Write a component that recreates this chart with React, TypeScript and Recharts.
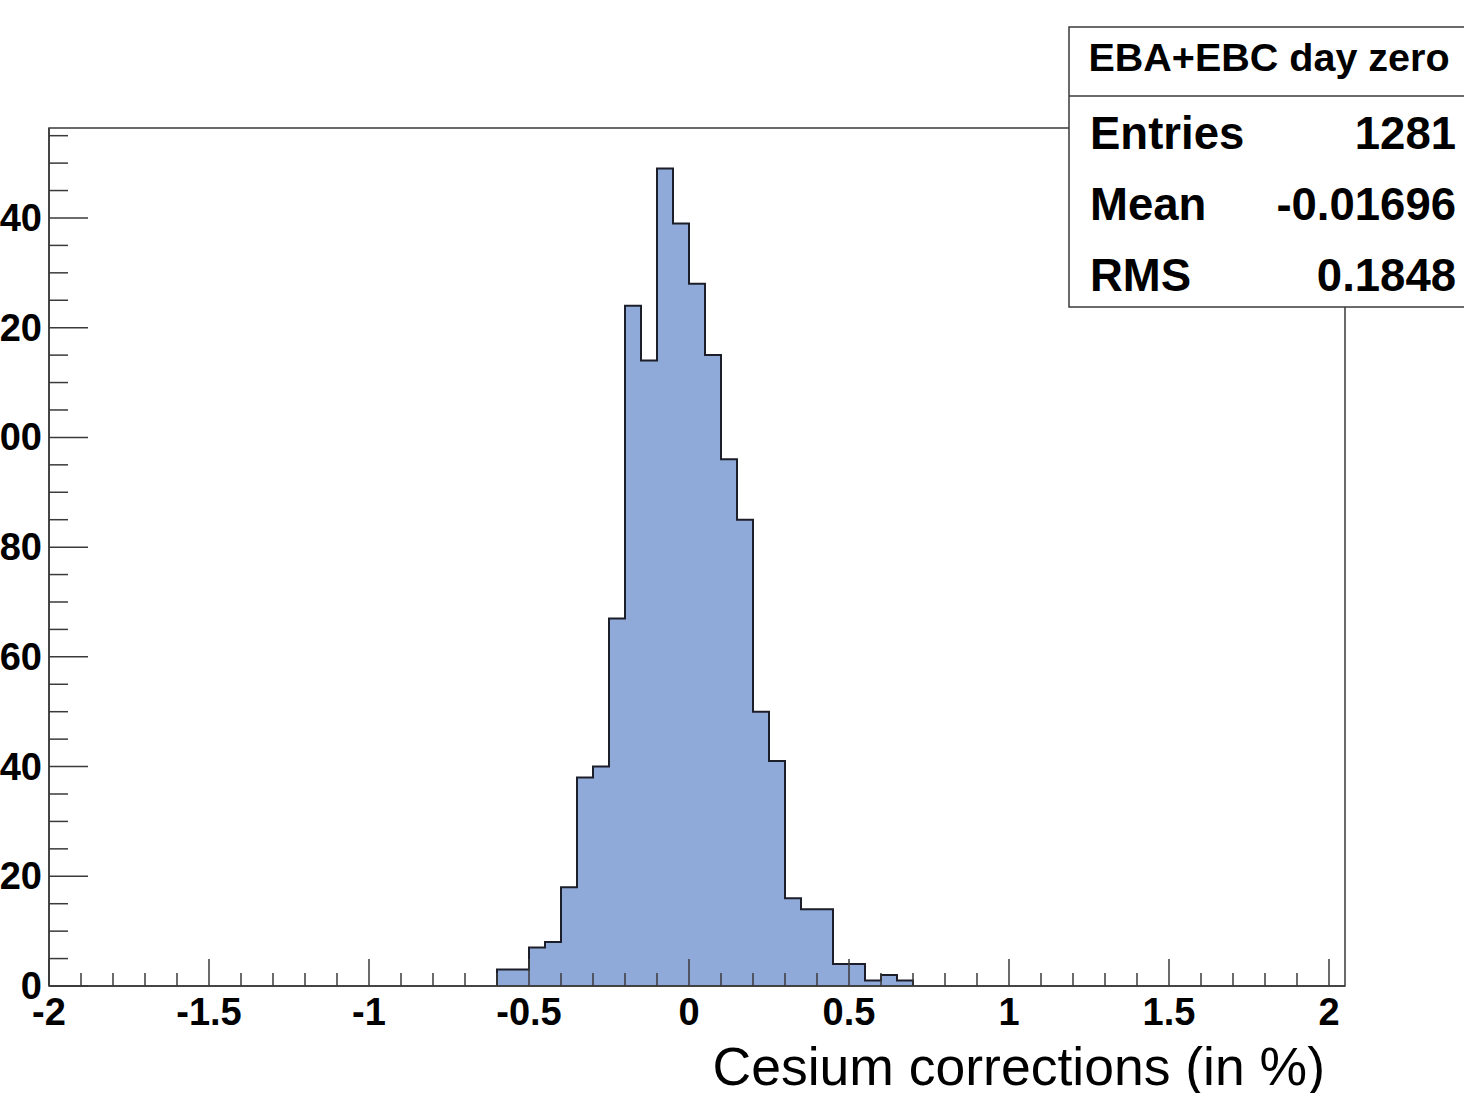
import { Area, ComposedChart, ReferenceArea, XAxis, YAxis } from "recharts";

// Cesium calibration corrections, EBA + EBC partitions, 0.05 %-wide bins.
const binEdges = [
  -0.6, -0.55, -0.5, -0.45, -0.4, -0.35, -0.3, -0.25, -0.2, -0.15, -0.1, -0.05, 0,
  0.05, 0.1, 0.15, 0.2, 0.25, 0.3, 0.35, 0.4, 0.45, 0.5, 0.55, 0.6, 0.65, 0.7,
];
const counts = [
  3, 3, 7, 8, 18, 38, 40, 67, 124, 114, 149, 139, 128, 115, 96, 85, 50, 41, 16, 14, 14, 4, 4,
  1, 2, 1,
];

const xMajorTicks = [-2, -1.5, -1, -0.5, 0, 0.5, 1, 1.5, 2];
const xAllTicks = [
  -2, -1.9, -1.8, -1.7, -1.6, -1.5, -1.4, -1.3, -1.2, -1.1, -1, -0.9, -0.8, -0.7, -0.6, -0.5,
  -0.4, -0.3, -0.2, -0.1, 0, 0.1, 0.2, 0.3, 0.4, 0.5, 0.6, 0.7, 0.8, 0.9, 1, 1.1, 1.2, 1.3, 1.4,
  1.5, 1.6, 1.7, 1.8, 1.9, 2,
];
const yMajorTicks = [0, 20, 40, 60, 80, 100, 120, 140];
const yAllTicks = [
  0, 5, 10, 15, 20, 25, 30, 35, 40, 45, 50, 55, 60, 65, 70, 75, 80, 85, 90, 95, 100, 105, 110,
  115, 120, 125, 130, 135, 140, 145, 150, 155,
];

const X_DOMAIN: [number, number] = [-2, 2.05];
const Y_DOMAIN: [number, number] = [0, 156.4];

const statsTitle = "EBA+EBC day zero";
const statsLabels = ["Entries", "Mean", "RMS"];
const statsValues = [String(counts.reduce((a, b) => a + b, 0)), "-0.01696", "0.1848"];
const axisTitle = "Cesium corrections (in %)";

const FONT = "'Liberation Sans', Arial, Helvetica, sans-serif";
const FRAME = "#3a3a3a";
const FILL = "#8fa9d9";

// Step outline: start and finish on the baseline so the outer edges get drawn too.
const stepData = [
  { x: binEdges[0], n: 0 },
  ...counts.map((n, i) => ({ x: binEdges[i], n })),
  { x: binEdges[counts.length], n: 0 },
];

function XTick({ x, y, payload }: any) {
  const v = payload.value as number;
  const major = xMajorTicks.includes(v);
  return (
    <g>
      <line x1={x} x2={x} y1={y} y2={y - (major ? 27 : 13)} stroke={FRAME} strokeWidth={1.5} />
      {major && (
        <text x={x} y={y + 39} textAnchor="middle" fontFamily={FONT} fontWeight="bold" fontSize={38} fill="#000">
          {String(v)}
        </text>
      )}
    </g>
  );
}

function YTick({ x, y, payload }: any) {
  const v = payload.value as number;
  const major = yMajorTicks.includes(v);
  return (
    <g>
      <line x1={x} x2={x + (major ? 39 : 19)} y1={y} y2={y} stroke={FRAME} strokeWidth={1.5} />
      {major && (
        <text x={x - 7} y={y + 13} textAnchor="end" fontFamily={FONT} fontWeight="bold" fontSize={38} fill="#000">
          {String(v)}
        </text>
      )}
    </g>
  );
}

export default function App() {
  return (
    <div style={{ position: "absolute", left: 0, top: 0, width: 1464, height: 1093, overflow: "hidden", background: "#fff" }}>
      <ComposedChart
        width={1464}
        height={1093}
        data={stepData}
        margin={{ top: 128, right: 119, bottom: 0, left: 0 }}
      >
        <Area
          type="stepAfter"
          dataKey="n"
          fill={FILL}
          fillOpacity={1}
          stroke="#1c1f2a"
          strokeWidth={2}
          dot={false}
          activeDot={false}
          isAnimationActive={false}
        />
        <ReferenceArea
          x1={X_DOMAIN[0]}
          x2={X_DOMAIN[1]}
          y1={Y_DOMAIN[0]}
          y2={Y_DOMAIN[1]}
          fill="none"
          stroke={FRAME}
          strokeWidth={1.5}
        />
        <XAxis
          dataKey="x"
          type="number"
          domain={X_DOMAIN}
          ticks={xAllTicks}
          interval={0}
          height={107}
          tickSize={0}
          tickMargin={0}
          tickLine={false}
          axisLine={{ stroke: FRAME, strokeWidth: 1.5 }}
          tick={<XTick />}
        />
        <YAxis
          type="number"
          domain={Y_DOMAIN}
          ticks={yAllTicks}
          interval={0}
          width={49}
          tickSize={0}
          tickMargin={0}
          tickLine={false}
          axisLine={{ stroke: FRAME, strokeWidth: 1.5 }}
          tick={<YTick />}
        />
      </ComposedChart>

      <svg width={1464} height={1093} style={{ position: "absolute", left: 0, top: 0 }}>
        <text x={1325} y={1085} textAnchor="end" fontFamily={FONT} fontSize={53.5} fill="#000">
          {axisTitle}
        </text>
        <g fontFamily={FONT} fontWeight="bold" fill="#000">
          <rect x={1069} y={27} width={420} height={280} fill="#fff" stroke={FRAME} strokeWidth={1.5} />
          <line x1={1069} x2={1489} y1={96} y2={96} stroke={FRAME} strokeWidth={1.5} />
          <text x={1269} y={71} textAnchor="middle" fontSize={39.5}>
            {statsTitle}
          </text>
          {statsLabels.map((label, i) => (
            <g key={label}>
              <text x={1090} y={149 + i * 71} fontSize={45.5}>
                {label}
              </text>
              <text x={1456} y={149 + i * 71} textAnchor="end" fontSize={45.5}>
                {statsValues[i]}
              </text>
            </g>
          ))}
        </g>
      </svg>
    </div>
  );
}
